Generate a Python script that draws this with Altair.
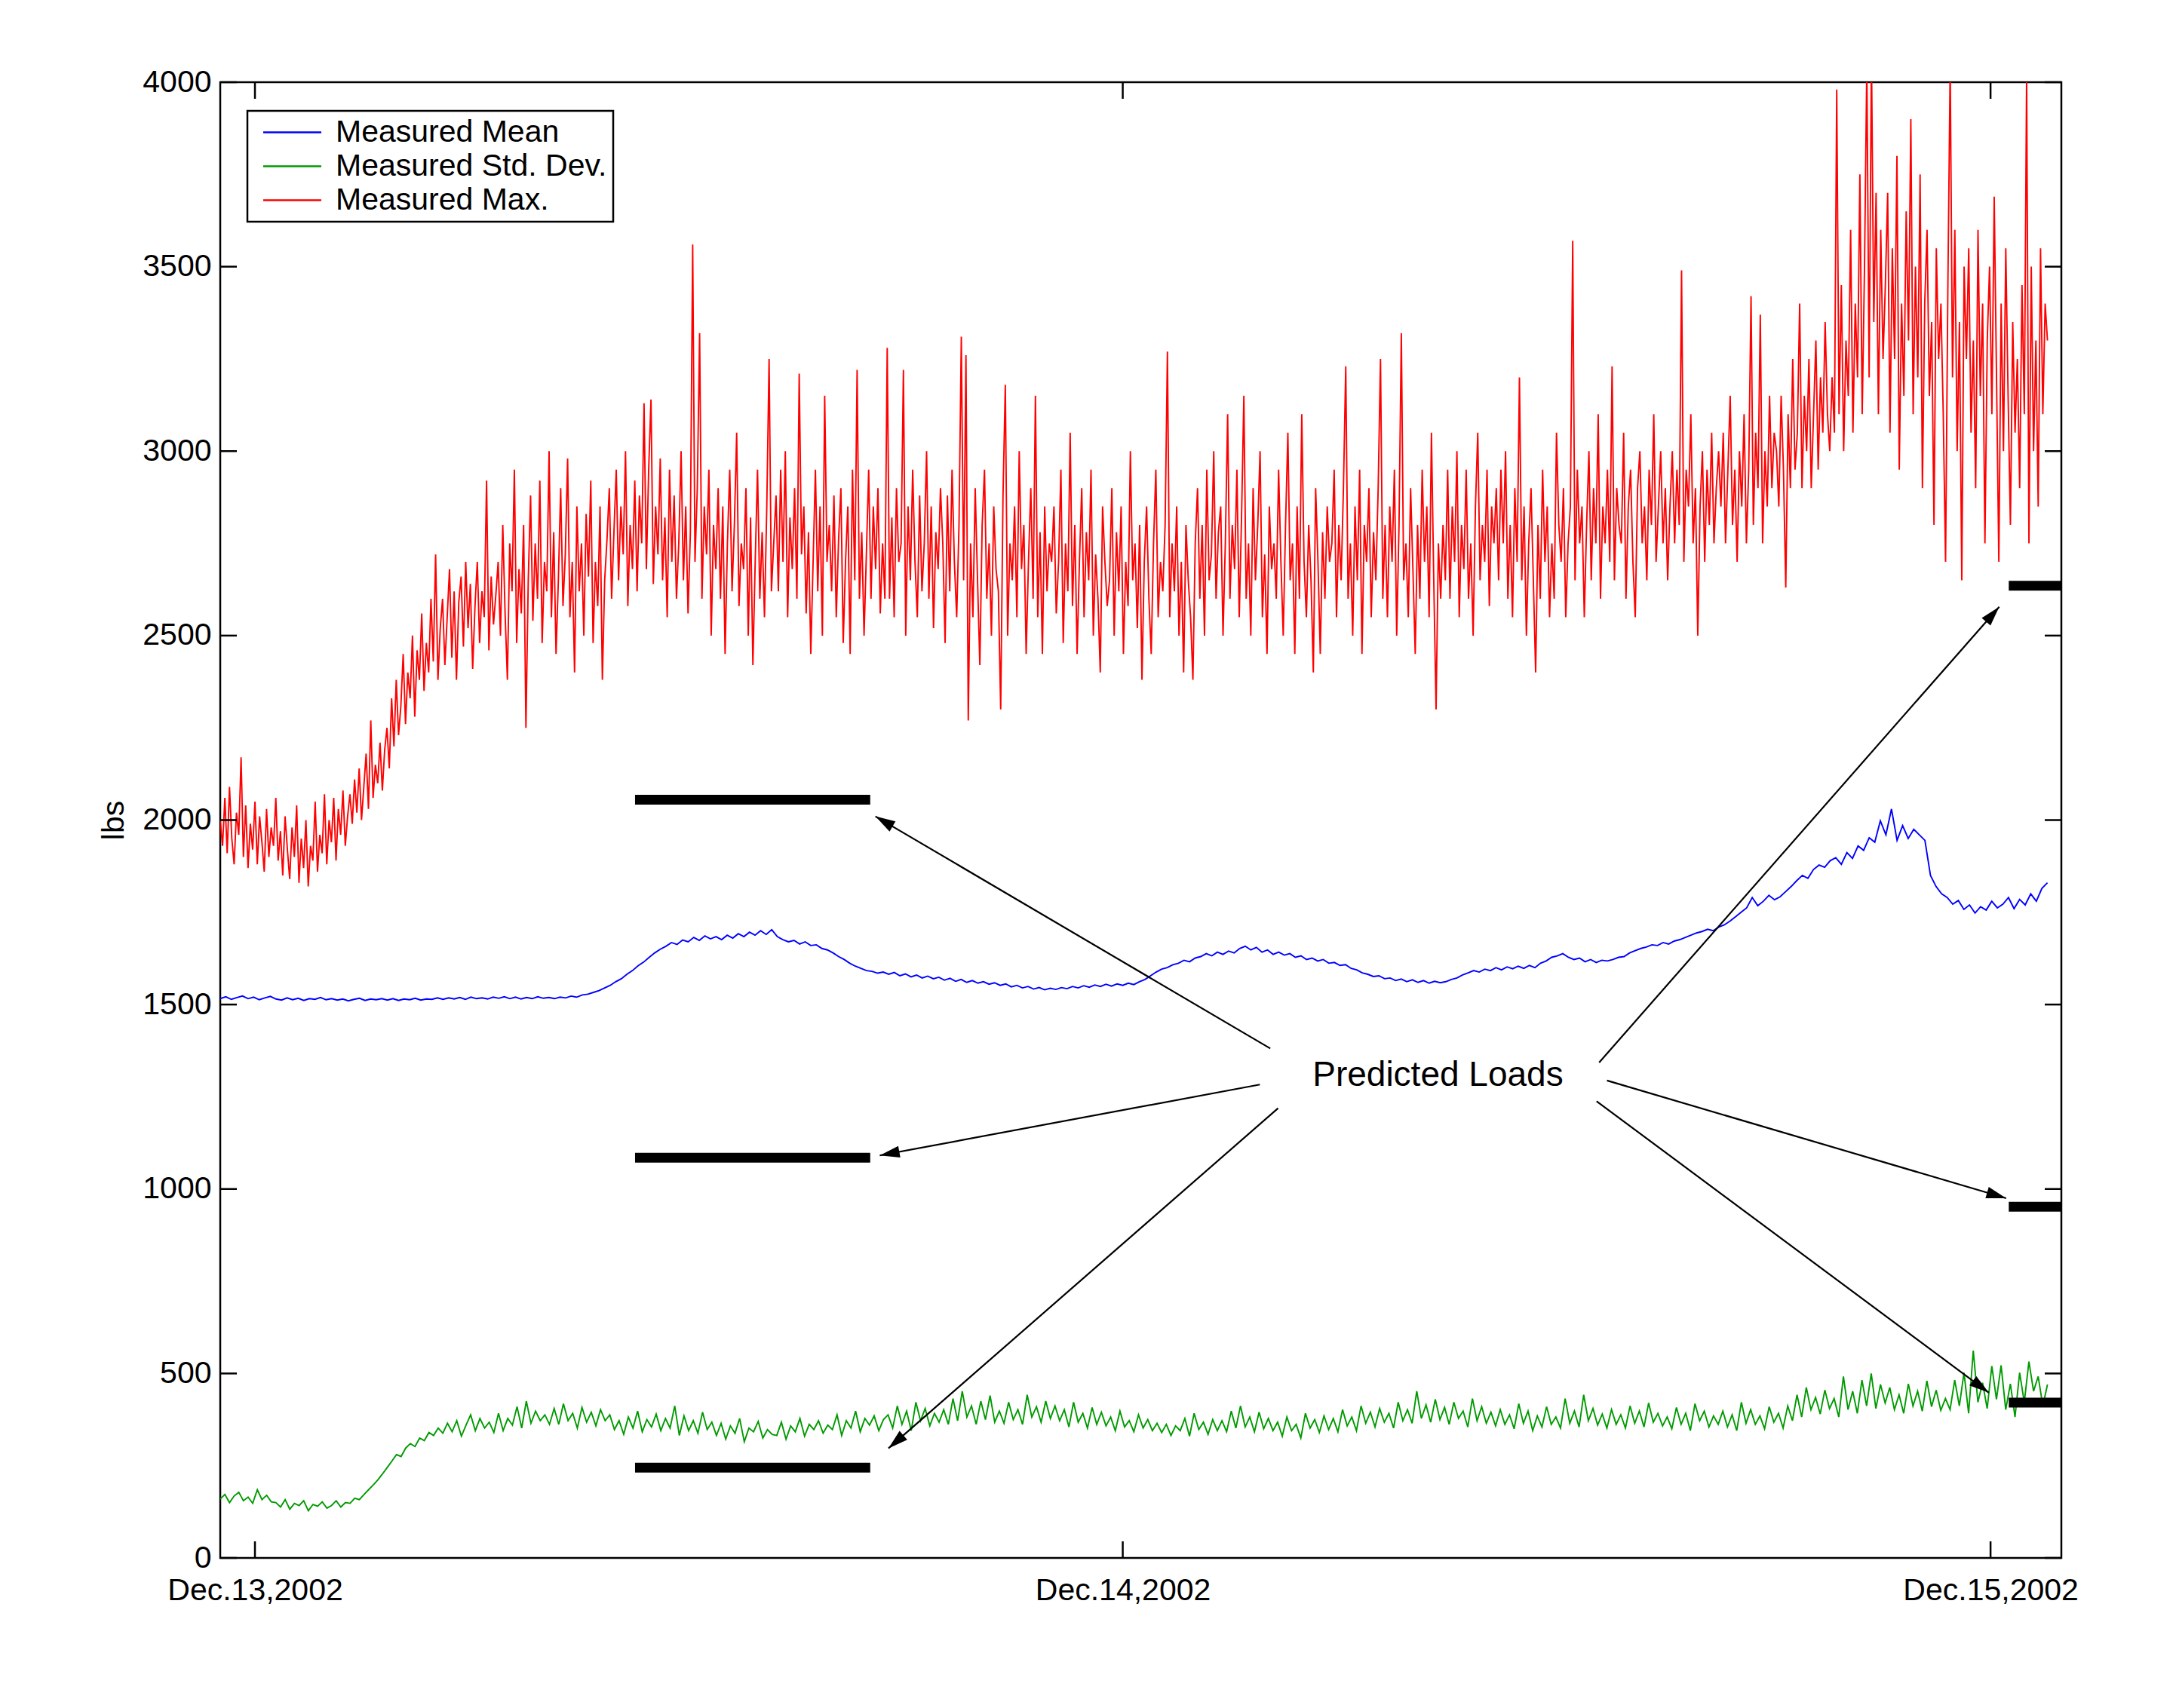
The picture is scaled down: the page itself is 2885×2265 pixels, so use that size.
import math
import numpy as np
import pandas as pd
import altair as alt

# ---------------- data ----------------
SERIES = ["Measured Mean", "Measured Std. Dev.", "Measured Max."]
COLORS = ["#0000ff", "#009a00", "#ff0000"]

T_START = -0.04      # days relative to Dec.13,2002 00:00
T_END = 2.0656

max_vals = [
    2000,1930,2060,1910,2090,1950,1880,2020,1960,2170,1900,2040,1870,1990,1920,2050,1880,2010,1940,1860,2030,1900,1980,1930,
    2060,1890,1970,1850,2010,1920,1840,1980,1900,2040,1830,1950,1870,2000,1820,1930,1890,2050,1860,1960,1910,2070,1880,2000,
    1940,2060,1890,2030,1960,2080,1930,2010,2070,1990,2110,2020,2140,2000,2090,2180,2030,2270,2060,2150,2100,2210,2080,2190,
    2250,2140,2330,2200,2380,2230,2310,2450,2260,2400,2330,2500,2280,2460,2380,2560,2350,2480,2400,2600,2430,2720,2380,2520,
    2600,2420,2550,2680,2440,2620,2380,2590,2660,2470,2700,2520,2640,2410,2580,2700,2480,2620,2550,2920,2460,2660,2530,2610,
    2700,2500,2800,2560,2380,2750,2620,2950,2480,2680,2560,2800,2250,2650,2880,2540,2750,2600,2920,2480,2700,2620,3000,2550,
    2780,2450,2650,2900,2580,2720,2980,2550,2700,2400,2850,2620,2750,2500,2830,2660,2920,2480,2700,2580,2850,2380,2650,2760,
    2900,2600,2780,2950,2650,2850,2720,3000,2580,2800,2680,2920,2620,2880,2750,3130,2680,2950,3140,2640,2850,2720,2980,2650,
    2820,2550,2950,2700,2880,2600,2750,3000,2650,2850,2560,2780,3560,2700,2900,3320,2600,2850,2720,2950,2500,2800,2680,2900,
    2600,2850,2450,2750,2950,2620,2800,3050,2580,2750,2680,2900,2500,2820,2420,2700,2950,2600,2780,2550,2850,3250,2620,2750,
    2880,2620,2950,2700,3000,2550,2820,2680,2900,2600,3210,2720,2850,2560,2780,2450,2700,2950,2620,2850,2500,3150,2700,2800,
    2620,2880,2550,2760,2900,2480,2700,2850,2450,2950,2650,3220,2600,2780,2500,2720,2950,2600,2850,2680,2900,2560,2750,2600,
    3280,2600,2820,2550,2900,2700,2750,3220,2500,2850,2650,2950,2700,2550,2880,2620,2750,3000,2600,2850,2520,2780,2680,2900,
    2750,2480,2880,2620,2950,2700,2550,2800,3310,2650,3260,2270,2750,2550,2900,2650,2420,2800,2950,2600,2750,2500,2850,2680,
    2620,2300,2880,3180,2500,2750,2650,2850,2550,3000,2680,2800,2450,2700,2900,2600,3150,2550,2780,2450,2850,2620,2750,2700,
    2850,2560,2700,2950,2480,2750,2620,3050,2580,2800,2450,2700,2900,2550,2780,2650,2950,2500,2720,2600,2400,2850,2700,2580,
    2650,2900,2500,2780,2620,2850,2450,2700,2580,3000,2650,2750,2520,2800,2380,2700,2850,2600,2450,2750,2950,2550,2700,2620,
    2800,3270,2550,2750,2620,2850,2500,2700,2400,2800,2650,2550,2380,2750,2900,2600,2800,2500,2950,2650,2720,3000,2600,2780,
    2850,2500,2750,3100,2600,2800,2680,2950,2550,2820,3150,2600,2750,2500,2900,2650,2800,3000,2550,2720,2450,2850,2680,2750,
    2600,2950,2700,2500,2800,3050,2650,2750,2450,2850,2600,3100,2700,2550,2800,2650,2400,2900,2700,2450,2780,2600,2850,2700,
    2750,2950,2550,2800,2650,2900,3230,2600,2750,2500,2850,2650,2950,2450,2800,2700,2900,2550,2780,2650,2900,3250,2600,2800,
    2550,2850,2700,2950,2500,2800,3320,2650,2750,2550,2900,2680,2450,2800,2600,2950,2700,2850,2550,3050,2650,2300,2750,2600,
    2800,2650,2950,2600,2850,2700,3000,2550,2800,2680,2950,2600,2750,2500,2850,3050,2650,2800,2700,2950,2580,2850,2750,2900,
    2650,2950,2750,3000,2600,2800,2550,2900,2700,3200,2650,2850,2500,2750,2900,2650,2400,2800,2600,2950,2700,2850,2550,2750,
    2600,3050,2800,2700,2900,2550,2750,2850,3570,2650,2950,2750,2850,2550,2800,3000,2650,2900,2750,3100,2600,2850,2750,2950,
    2700,3230,2650,2900,2800,2750,3050,2600,2850,2950,2700,2550,2900,3000,2750,2850,2650,2950,2800,3100,2700,2850,3000,2750,
    2900,2650,2850,3000,2750,2950,2800,3490,2700,2950,2850,3100,2750,2900,2500,2850,3000,2700,2950,2800,3050,2750,2900,3000,
    2850,3050,2750,2950,3150,2800,2950,2700,3000,2850,3100,2750,2950,3420,2800,3050,2900,3370,2750,3000,2850,3150,2900,3050,
    3000,2850,3150,2950,2630,3100,2900,3250,2950,3050,3400,2900,3150,3000,3250,2900,3100,3300,2950,3200,3050,3350,3100,3000,
    3200,3050,3980,3100,3450,3000,3300,3150,3600,3050,3400,3200,3750,3100,3500,4050,3200,4080,3350,3700,3100,3600,3250,3450,
    3700,3050,3550,3250,3800,2950,3400,3150,3650,3300,3900,3100,3500,3200,3750,2900,3400,3600,3150,3350,2800,3550,3250,3400,
    3100,2700,3450,4050,3200,3600,3000,3350,2650,3500,3250,3550,3050,3300,2900,3600,3150,3400,2750,3300,3500,3100,3690,3200,
    2700,3400,3000,3550,3150,2800,3350,3050,3250,2900,3450,3100,4020,2750,3500,3000,3300,2850,3550,3100,3400,3300,
]

std_vals = [
    160,172,150,168,178,155,165,148,185,158,170,152,
    150,138,158,132,148,142,155,128,145,140,152,135,
    142,155,138,150,148,162,158,172,185,198,212,228,
    245,262,280,275,298,310,302,325,318,340,332,352,
    338,365,342,372,330,360,388,345,378,352,368,340,
    392,345,378,360,410,352,425,365,398,372,388,362,
    405,362,418,372,392,352,408,368,395,358,402,372,
    388,348,372,335,382,352,398,342,375,355,390,345,
    378,352,412,332,385,345,372,338,395,348,368,332,
    365,322,358,338,378,315,352,342,370,325,348,335,
    332,368,322,358,342,378,330,362,348,372,338,360,
    348,388,332,372,352,398,342,378,360,385,345,375,
    388,352,412,362,398,345,422,372,405,358,392,368,
    402,362,432,372,452,382,412,362,425,375,440,368,
    398,365,422,375,402,362,442,382,410,368,425,378,
    412,372,402,355,422,368,392,352,408,362,395,358,
    382,345,398,355,372,342,388,352,375,345,365,340,
    362,332,358,345,378,330,392,348,368,335,375,345,
    372,342,398,352,412,355,382,342,395,350,378,345,
    368,330,382,345,362,325,392,352,375,340,385,348,
    378,342,402,358,382,345,412,365,395,355,405,368,
    392,352,422,372,402,365,452,378,415,368,430,375,
    408,362,422,378,398,355,432,372,410,365,395,358,
    402,362,388,350,418,365,398,345,385,355,410,362,
    382,352,432,365,398,355,442,372,405,360,390,352,
    402,362,388,352,412,365,398,355,420,368,392,358,
    382,350,408,362,392,345,418,372,398,355,385,362,
    398,355,388,345,422,365,402,362,385,350,410,368,
    392,352,412,372,442,382,462,402,435,390,455,405,
    432,382,492,402,452,392,482,412,500,405,470,420,
    462,402,442,392,472,412,452,398,480,410,455,400,
    432,402,482,412,502,392,562,422,475,405,520,430,
    522,402,472,382,502,422,532,452,492,412,470,
]

mean_vals = [
    1516,1521,1514,1519,1523,1516,1520,1513,1518,1522,
    1515,1512,1518,1513,1517,1511,1516,1514,1519,1513,
    1516,1512,1515,1510,1514,1517,1511,1515,1513,1516,
    1512,1516,1511,1515,1513,1517,1512,1515,1514,1518,
    1514,1518,1515,1519,1514,1520,1516,1518,1515,1520,
    1517,1521,1516,1520,1515,1519,1516,1521,1517,1519,
    1516,1520,1518,1523,1520,1526,1528,1533,1538,1545,
    1552,1562,1570,1582,1592,1605,1615,1628,1640,1650,
    1658,1668,1663,1675,1670,1682,1674,1686,1678,1684,
    1676,1688,1680,1692,1684,1696,1688,1700,1690,1703,
    1684,1676,1670,1674,1664,1670,1660,1662,1652,1648,
    1640,1630,1622,1612,1604,1598,1592,1590,1585,1588,
    1582,1587,1578,1583,1575,1580,1572,1577,1570,1574,
    1566,1571,1563,1568,1560,1565,1558,1562,1555,1559,
    1552,1556,1548,1552,1545,1549,1542,1546,1540,1544,
    1541,1546,1543,1549,1545,1551,1547,1553,1549,1555,
    1550,1556,1552,1558,1554,1562,1568,1578,1588,1596,
    1600,1608,1612,1620,1616,1626,1630,1638,1632,1642,
    1636,1645,1640,1652,1658,1648,1655,1642,1648,1636,
    1642,1634,1638,1628,1632,1622,1626,1618,1622,1612,
    1614,1606,1608,1598,1594,1586,1582,1576,1578,1570,
    1572,1565,1569,1562,1567,1560,1565,1558,1563,1559,
    1562,1568,1572,1580,1586,1592,1588,1596,1592,1600,
    1594,1602,1597,1604,1598,1606,1600,1612,1618,1628,
    1632,1638,1628,1622,1626,1616,1622,1614,1620,1618,
    1622,1628,1630,1640,1646,1652,1656,1662,1660,1668,
    1664,1672,1676,1682,1688,1694,1698,1704,1700,1710,
    1716,1726,1738,1750,1762,1790,1768,1780,1796,1784,
    1792,1806,1820,1836,1850,1842,1866,1878,1872,1890,
    1898,1880,1912,1896,1930,1918,1952,1940,1998,1960,
    2030,1945,1985,1950,1975,1960,1945,1850,1820,1800,
    1790,1772,1782,1758,1770,1748,1765,1756,1780,1762,
    1772,1790,1760,1785,1770,1800,1780,1815,1830,
]

# predicted loads (black bars): start day, end day, value
pred_start = [0.438, 0.438, 0.438, 2.021, 2.021, 2.021]
pred_end = [0.709, 0.709, 0.709, 2.0816, 2.0816, 2.0816]
pred_val = [2055, 1085, 245, 2635, 952, 421]

# arrows from the annotation to the bars
arrow_t0 = [1.170, 1.158, 1.179, 1.549, 1.558, 1.546]
arrow_v0 = [1381, 1283, 1219, 1343, 1294, 1238]
arrow_t1 = [0.715, 0.720, 0.730, 2.010, 2.018, 1.998]
arrow_v1 = [2010, 1091, 297, 2578, 975, 448]

note_text = "Predicted Loads"
note_t, note_v = 1.3632, 1309

y_ticks = [0, 500, 1000, 1500, 2000, 2500, 3000, 3500, 4000]
x_ticks = [0, 1, 2]
x_tick_labels = ["Dec.13,2002", "Dec.14,2002", "Dec.15,2002"]

X_DOMAIN = [-0.04, 2.0816]
Y_DOMAIN = [0, 4000]

# ---------------- chart ----------------
W, H = 2441, 1957
FONT = "Liberation Sans"
TICK = 22
FS = 41

frames = []
for name, vals in zip(SERIES, [mean_vals, std_vals, max_vals]):
    t = np.linspace(T_START, T_END, len(vals))
    frames.append(pd.DataFrame({"t": t, "v": vals, "series": name, "order": np.arange(len(vals))}))
lines_df = pd.concat(frames, ignore_index=True)

xs = alt.Scale(domain=X_DOMAIN, nice=False, zero=False)
ys = alt.Scale(domain=Y_DOMAIN, nice=False)

label_expr = " : ".join(
    f"datum.value == {v} ? '{l}'" for v, l in zip(x_ticks, x_tick_labels)
) + " : ''"

x_enc = alt.X("t:Q", scale=xs, axis=alt.Axis(
    values=x_ticks, labelExpr=label_expr, ticks=False, domain=False, grid=False,
    labelFontSize=FS, labelFont=FONT, labelPadding=23, labelColor="black",
    labelLimit=0, labelOverlap=False, title=None))
y_enc = alt.Y("v:Q", scale=ys, axis=alt.Axis(
    values=y_ticks, format="d", ticks=False, domain=False, grid=False, labelFontSize=FS,
    labelFont=FONT, labelPadding=12, labelColor="black", labelLimit=0, title="lbs",
    titleFontSize=FS, titleFont=FONT, titleFontWeight="normal", titleColor="black",
    titlePadding=16))

lines = alt.Chart(lines_df).mark_line(strokeWidth=1.9, clip=True).encode(
    x=x_enc, y=y_enc,
    color=alt.Color("series:N", scale=alt.Scale(domain=SERIES, range=COLORS),
                    legend=alt.Legend(title=None, orient="none", legendX=36, legendY=38,
                                      symbolType="M-2,0L2,0", symbolSize=1482,
                                      symbolStrokeWidth=2.5, symbolOffset=31,
                                      labelFontSize=FS, labelFont=FONT, labelColor="black",
                                      labelLimit=0, labelOffset=37,
                                      fillColor="white", strokeColor="black",
                                      padding=8, rowPadding=3)),
    order="order:Q",
)

# inward ticks (box style)
yt = pd.DataFrame({"v": y_ticks})
xt = pd.DataFrame({"t": x_ticks})
tick_l = alt.Chart(yt).mark_rule(color="black", strokeWidth=2.5).encode(
    y=alt.Y("v:Q", scale=ys), x=alt.value(0), x2=alt.value(TICK))
tick_r = alt.Chart(yt).mark_rule(color="black", strokeWidth=2.5).encode(
    y=alt.Y("v:Q", scale=ys), x=alt.value(W - TICK), x2=alt.value(W))
tick_b = alt.Chart(xt).mark_rule(color="black", strokeWidth=2.5).encode(
    x=alt.X("t:Q", scale=xs), y=alt.value(H), y2=alt.value(H - TICK))
tick_t = alt.Chart(xt).mark_rule(color="black", strokeWidth=2.5).encode(
    x=alt.X("t:Q", scale=xs), y=alt.value(0), y2=alt.value(TICK))

pred_df = pd.DataFrame({"t": pred_start, "t2": pred_end, "v": pred_val})
pred = alt.Chart(pred_df).mark_rule(color="black", strokeWidth=13).encode(
    x=alt.X("t:Q", scale=xs), x2="t2:Q", y=alt.Y("v:Q", scale=ys))

# arrow heads: rotation from the screen direction of each arrow
sx = W / (X_DOMAIN[1] - X_DOMAIN[0])
sy = H / (Y_DOMAIN[1] - Y_DOMAIN[0])
angles = []
for a, b, c, d in zip(arrow_t0, arrow_v0, arrow_t1, arrow_v1):
    dx = (c - a) * sx
    dy = -(d - b) * sy
    angles.append(math.degrees(math.atan2(dx, -dy)) % 360)
arr_df = pd.DataFrame({"t": arrow_t0, "v": arrow_v0, "t2": arrow_t1, "v2": arrow_v1, "ang": angles})
arr_line = alt.Chart(arr_df).mark_rule(color="black", strokeWidth=2.2).encode(
    x=alt.X("t:Q", scale=xs), y=alt.Y("v:Q", scale=ys), x2="t2:Q", y2="v2:Q")
arr_head = alt.Chart(arr_df).mark_point(
    shape="M0,0L-0.5,1.7L0.5,1.7Z", filled=True, color="black", opacity=1, size=960
).encode(x=alt.X("t2:Q", scale=xs), y=alt.Y("v2:Q", scale=ys),
         angle=alt.Angle("ang:Q", scale=None))

note = alt.Chart(pd.DataFrame({"t": [note_t], "v": [note_v], "s": [note_text]})).mark_text(
    fontSize=46, font=FONT, color="black", align="center", baseline="middle"
).encode(x=alt.X("t:Q", scale=xs), y=alt.Y("v:Q", scale=ys), text="s:N")

chart = alt.layer(lines, tick_l, tick_r, tick_b, tick_t, pred, arr_line, arr_head, note).properties(
    width=W, height=H, padding={"left": 122, "top": 80, "right": 5, "bottom": 5},
    background="white",
).configure_view(stroke="black", strokeWidth=2.5).configure_legend(strokeWidth=2.5)

chart.save("out.html", embed_options={"renderer": "svg", "actions": False})
